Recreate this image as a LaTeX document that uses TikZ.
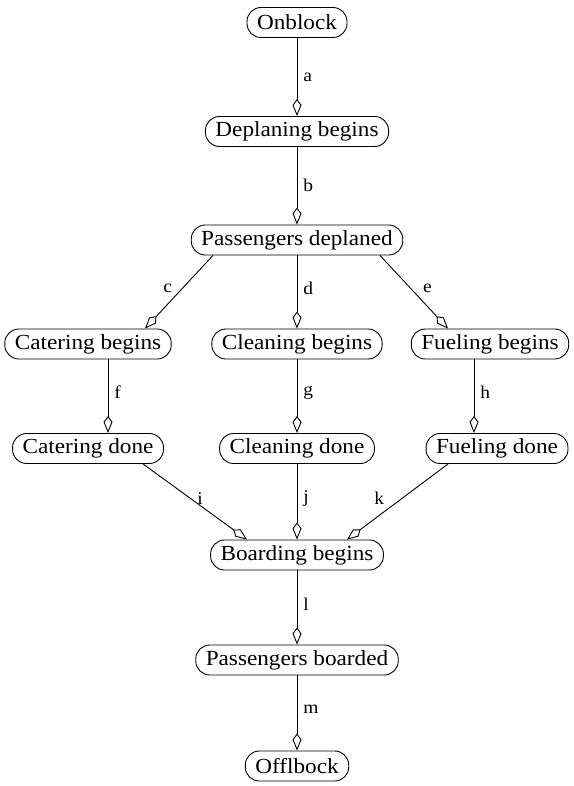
\documentclass[tikz,border=0pt]{standalone}
\usepackage{fontspec}
\setmainfont[FakeStretch=1.08]{Liberation Serif}
\usetikzlibrary{arrows.meta,calc}
\tikzset{
  evt/.style={draw, line width=0.9pt, rounded corners=14pt, minimum height=30pt,
    inner xsep=10pt, inner ysep=2pt, font=\fontsize{21.5}{24}\selectfont},
  flow/.style={line width=0.9pt, -{Kite[open, length=17pt, width=9pt, inset=6pt]}},
  lab/.style={inner sep=2pt, font=\fontsize{18}{20}\selectfont}
}
\begin{document}
\begin{tikzpicture}[x=1pt,y=-1pt]
\useasboundingbox (0,0) rectangle (573,786);
\node[evt] (on)  at (297,22.5) {Onblock};
\node[evt] (dp)  at (297,131.5) {Deplaning begins};
\node[evt] (pd)  at (297,240) {Passengers deplaned};
\node[evt] (cb)  at (88,344) {Catering begins};
\node[evt] (clb) at (297,344) {Cleaning begins};
\node[evt] (fb)  at (490,344) {Fueling begins};
\node[evt] (cd)  at (88,448.5) {Catering done};
\node[evt] (cld) at (297,448.5) {Cleaning done};
\node[evt] (fd)  at (497,448.5) {Fueling done};
\node[evt] (bb)  at (297,555) {Boarding begins};
\node[evt] (pb)  at (297,660) {Passengers boarded};
\node[evt] (off) at (297,766) {Offlbock};

\draw[flow] (on) -- node[lab, pos=0.5, right=4pt] {a} (dp);
\draw[flow] (dp) -- node[lab, pos=0.5, right=4pt] {b} (pd);
\draw[flow] ($(pd.south)+(-84,0)$) -- node[lab, pos=0.45, left=8pt] {c} ($(cb.north)+(57,0)$);
\draw[flow] (pd) -- node[lab, pos=0.45, right=4pt] {d} (clb);
\draw[flow] ($(pd.south)+(83,0)$) -- node[lab, pos=0.45, right=10pt] {e} ($(fb.north)+(-42,0)$);
\draw[flow] ($(cb.south)+(20,0)$) -- node[lab, pos=0.45, right=4pt] {f} ($(cd.north)+(20,0)$);
\draw[flow] (clb) -- node[lab, pos=0.45, right=4pt] {g} (cld);
\draw[flow] ($(fb.south)+(-16,0)$) -- node[lab, pos=0.45, right=4pt] {h} ($(fd.north)+(-23,0)$);
\draw[flow] ($(cd.south)+(55,0)$) -- node[lab, pos=0.46, right=4pt] {i} ($(bb.north)+(-50,0)$);
\draw[flow] (cld) -- node[lab, pos=0.46, right=4pt] {j} (bb);
\draw[flow] ($(fd.south)+(-49,0)$) -- node[lab, pos=0.46, left=15pt] {k} ($(bb.north)+(50,0)$);
\draw[flow] (bb) -- node[lab, pos=0.45, right=4pt] {l} (pb);
\draw[flow] (pb) -- node[lab, pos=0.45, right=4pt] {m} (off);
\end{tikzpicture}
\end{document}
